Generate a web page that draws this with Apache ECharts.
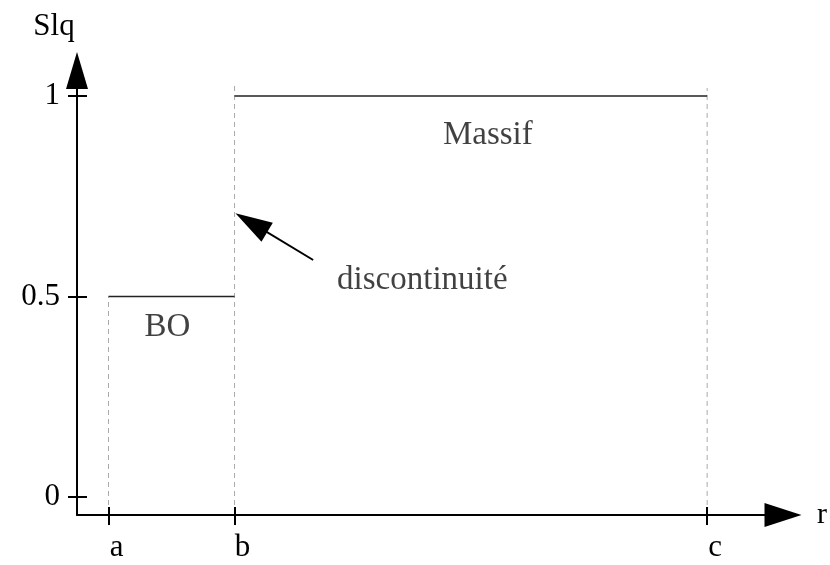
<!DOCTYPE html>
<html>
<head>
<meta charset="utf-8">
<script src="https://cdn.jsdelivr.net/npm/echarts@6/dist/echarts.min.js"></script>
<style>
  html, body { margin: 0; padding: 0; background: #fff; }
  #main { width: 830px; height: 565px; }
</style>
</head>
<body>
<div id="main"></div>
<script>
// positions of a, b, c along r (arbitrary units)
const xTickNames = ['a', 'b', 'c']
const xTickValues = [0.25, 1.25, 5]
const yTickValues = [0, 0.5, 1]
// Slq levels: BO between a and b, Massif between b and c
const boLevel = [[0.25, 0.5], [1.25, 0.5]]
const massifLevel = [[1.25, 1], [5, 1]]
// dashed guides (bottom, top) at a, b, c
const guideA = [[0.25, -0.02], [0.25, 0.5]]
const guideB = [[1.25, -0.02], [1.25, 1.035]]
const guideC = [[5, -0.02], [5, 1.02]]
// text annotations [x, y, text]
const notes = [
  [0.717, 0.424, 'BO'],
  [3.26, 0.903, 'Massif'],
  [2.74, 0.541, 'discontinuité']
]
// arrow pointing at the jump: from tail to head centre
const jumpArrow = [[1.874, 0.591], [1.383, 0.684]]

const font = 'Liberation Serif'
const chart = echarts.init(document.getElementById('main'))

const dashed = (data) => ({
  type: 'line',
  data: data,
  symbol: 'none',
  silent: true,
  lineStyle: { color: '#aaa', width: 1, type: [5, 4] }
})

const xRange = { min: 0, max: 5.602 }
const yRange = { min: -0.045, max: 1.0636 }

const option = {
  animation: false,
  grid: { left: 77, right: 41.5, top: 70.5, bottom: 50 },
  xAxis: [
    {
      type: 'value',
      ...xRange,
      name: 'r',
      nameLocation: 'end',
      nameGap: 34,
      nameTextStyle: { fontFamily: font, fontSize: 30, color: '#000', verticalAlign: 'middle', padding: [22, 0, 0, 0] },
      splitLine: { show: false },
      axisLine: { show: true, onZero: false, lineStyle: { color: '#000', width: 2 }, symbol: ['none', 'triangle'], symbolSize: [24, 37] },
      axisTick: { show: true, customValues: xTickValues, length: 10, lineStyle: { color: '#000', width: 2 } },
      axisLabel: {
        customValues: xTickValues,
        formatter: (v) => xTickNames[xTickValues.indexOf(v)],
        fontFamily: font, fontSize: 31, color: '#000', margin: 17,
        padding: [0, 0, 0, 16]
      }
    },
    {
      type: 'value',
      ...xRange,
      position: 'bottom',
      splitLine: { show: false },
      axisLine: { show: false, onZero: false },
      axisTick: { show: true, inside: true, customValues: xTickValues, length: 8, lineStyle: { color: '#000', width: 2 } },
      axisLabel: { show: false }
    }
  ],
  yAxis: [
    {
      type: 'value',
      ...yRange,
      name: 'Slq',
      nameLocation: 'end',
      nameGap: 28,
      nameTextStyle: { fontFamily: font, fontSize: 31, color: '#000', padding: [0, 46, 0, 0] },
      splitLine: { show: false },
      axisLine: { show: true, onZero: false, lineStyle: { color: '#000', width: 2 }, symbol: ['none', 'triangle'], symbolSize: [22, 37] },
      axisTick: { show: true, customValues: yTickValues, length: 9, lineStyle: { color: '#000', width: 2 } },
      axisLabel: {
        customValues: yTickValues,
        formatter: (v) => String(v),
        fontFamily: font, fontSize: 31, color: '#000', margin: 17,
        padding: [0, 0, 8, 0]
      }
    },
    {
      type: 'value',
      ...yRange,
      position: 'left',
      splitLine: { show: false },
      axisLine: { show: false, onZero: false },
      axisTick: { show: true, inside: true, customValues: yTickValues, length: 10, lineStyle: { color: '#000', width: 2 } },
      axisLabel: { show: false }
    }
  ],
  series: [
    dashed(guideA),
    dashed(guideB),
    dashed(guideC),
    {
      type: 'line',
      data: boLevel,
      symbol: 'none',
      lineStyle: { color: '#222', width: 1.5 }
    },
    {
      type: 'line',
      data: massifLevel,
      symbol: 'none',
      lineStyle: { color: '#222', width: 1.5 },
      markLine: {
        silent: true,
        symbol: ['none', 'triangle'],
        symbolSize: [22, 37],
        label: { show: false },
        lineStyle: { color: '#000', width: 2, type: 'solid' },
        data: [[{ coord: jumpArrow[0] }, { coord: jumpArrow[1] }]]
      }
    },
    {
      type: 'scatter',
      symbolSize: 0,
      data: notes,
      label: {
        show: true,
        position: 'inside',
        formatter: (p) => p.value[2],
        fontFamily: font,
        fontSize: 33,
        color: '#111'
      }
    }
  ]
}

option && chart.setOption(option)
</script>
</body>
</html>
